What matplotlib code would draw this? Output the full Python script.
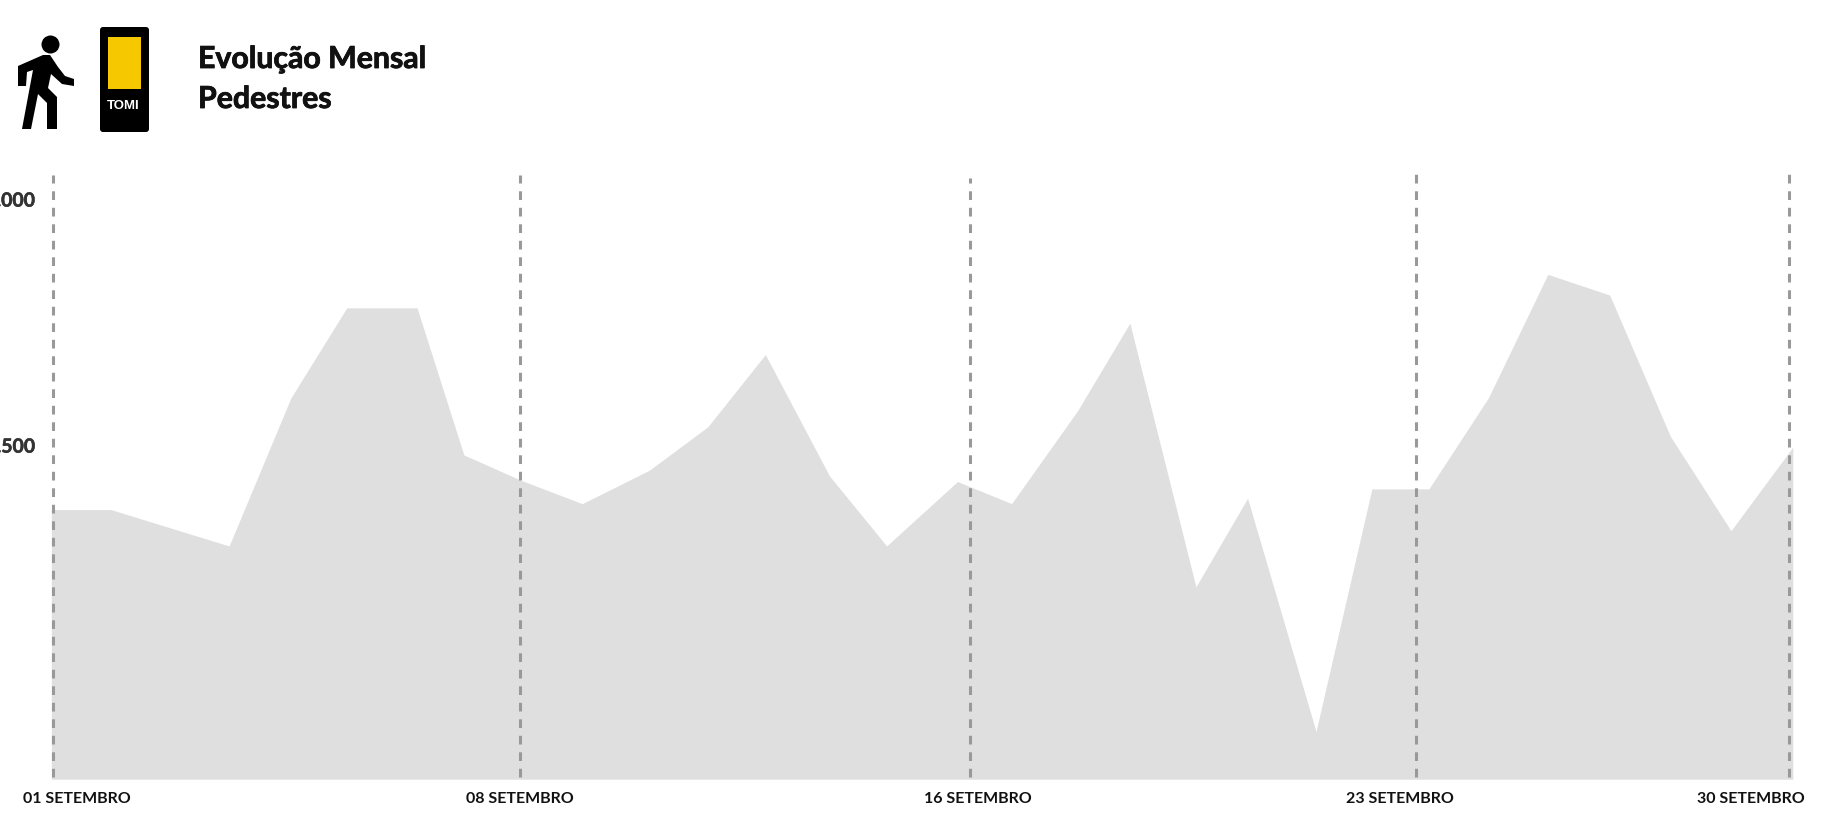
import matplotlib
matplotlib.use("Agg")
import matplotlib.pyplot as plt
import matplotlib.patheffects as pe
from matplotlib.patches import Circle, Polygon, FancyBboxPatch, Rectangle

W, H = 1829, 815
S = 1829 / 1568  # readings were taken on a 1568 px wide view

plt.rcParams["font.family"] = ["Lato", "DejaVu Sans"]

# chart values
day_pos = [1.0, 1.99, 3.96, 4.99, 5.92, 7.09, 7.87, 8.83, 9.84, 10.96, 11.93, 12.89, 13.96,
           14.91, 16.09, 16.99, 18.09, 18.96, 20.06, 20.92, 22.06, 22.99, 23.94, 24.93,
           25.92, 26.95, 27.96, 28.97, 30.0]
pedestres = [7370, 7370, 7296, 7597, 7780, 7780, 7481, 7429, 7382, 7450, 7538, 7685, 7438,
             7296, 7427, 7382, 7571, 7749, 7213, 7393, 6919, 7412, 7412, 7597, 7848,
             7806, 7519, 7327, 7497]
marker_days = [1.02, 8.81, 16.29, 23.73, 29.94]
marker_tops = [8050, 8050, 8043, 8055, 8055]
label_days = [1.43, 8.81, 16.43, 23.45, 29.3]
label_text = ["01 SETEMBRO", "08 SETEMBRO", "16 SETEMBRO", "23 SETEMBRO", "30 SETEMBRO"]
y_ticks = [7500, 8000]
y_labels = ["7.500", "8.000"]

fig = plt.figure(figsize=(W / 100, H / 100), dpi=100)

left, right = 44 * S, 1537 * S
top, bottom = 150 * S, 668 * S
ax = fig.add_axes([left / W, 1 - bottom / H, (right - left) / W, (bottom - top) / H])
ax.fill_between(day_pos, pedestres, 6822, color="#dfdfdf", lw=0)
ax.vlines(marker_days, 6826, marker_tops, color="#999999", lw=2.2,
          linestyles=(0, (2.85, 2.55)), clip_on=False, zorder=3)
ax.set_xlim(1, 30)
ax.set_ylim(6822, 8050)
ax.set_xticks(label_days, label_text)
ax.set_yticks(y_ticks, y_labels)
ax.tick_params(axis="x", length=0, pad=9, labelsize=11.5, labelcolor="#111111")
ax.tick_params(axis="y", length=0, pad=11.5, labelsize=14, labelcolor="#333333")
for lab in ax.get_xticklabels():
    lab.set_fontweight("bold")
for lab in ax.get_yticklabels():
    lab.set_fontweight("bold")
    lab.set_path_effects([pe.withStroke(linewidth=0.4, foreground="#333333")])
for sp in ax.spines.values():
    sp.set_visible(False)

# header drawn in pixel coordinates
hd = fig.add_axes([0, 0, 1, 1], zorder=5)
hd.set_xlim(0, W)
hd.set_ylim(H, 0)
hd.axis("off")

hd.add_patch(Circle((50.5, 44.5), 9, color="black", lw=0))
body = [(18, 66), (43, 55), (50, 55), (58, 67), (65, 76), (74, 79), (74, 86), (62, 84),
        (51, 74), (48, 88), (57, 97), (57, 129), (47, 129), (47, 103), (38, 94), (31, 129),
        (22, 129), (33, 70), (27, 72), (26, 86), (18, 86)]
hd.add_patch(Polygon(body, closed=True, color="black", lw=0))

hd.add_patch(FancyBboxPatch((100, 27), 49, 105, boxstyle="round,pad=0,rounding_size=3",
                            fc="black", ec="none"))
hd.add_patch(Rectangle((108, 37), 33, 52, fc="#f5c800", ec="none"))
hd.text(123, 106, "TOMI", color="white", fontsize=9.5, fontweight="bold", ha="center", va="center",
        family="Liberation Sans")

# the heading is heavier than Lato Bold, so thicken it a little
heavy = [pe.withStroke(linewidth=0.6, foreground="#111111")]
hd.text(198, 59, "Evolução Mensal", fontsize=21.8, fontweight="bold", color="#111111", va="center",
        path_effects=heavy)
hd.text(198, 99, "Pedestres", fontsize=21.8, fontweight="bold", color="#111111", va="center",
        path_effects=heavy)

fig.savefig("out.png", dpi=100)
